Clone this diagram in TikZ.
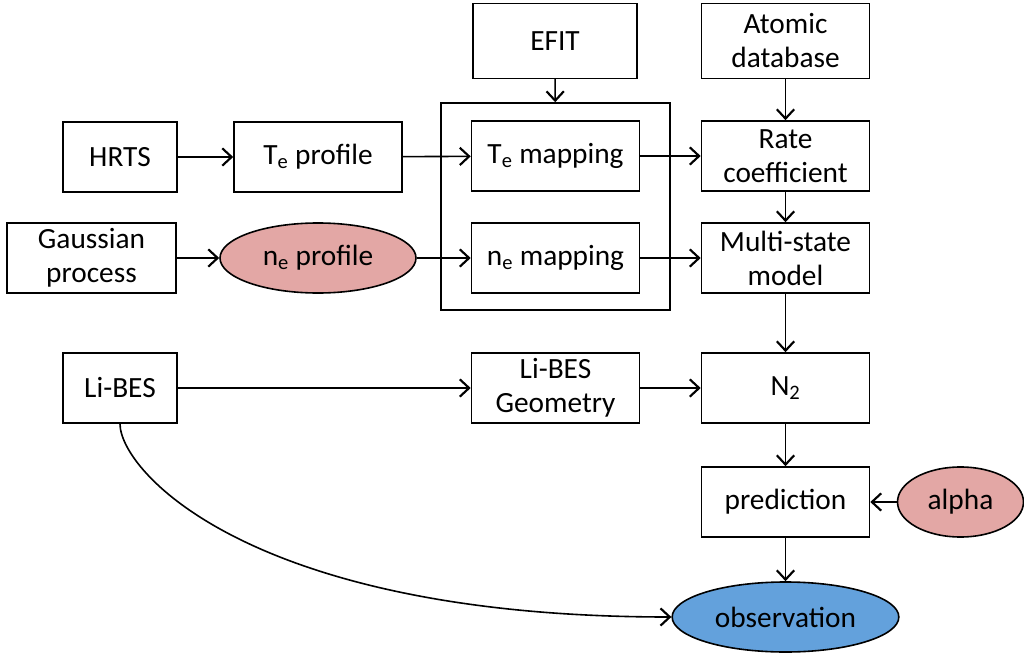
\documentclass[tikz,border=0pt]{standalone}
\usepackage{fontspec}
\setmainfont{Carlito}
\usetikzlibrary{arrows.meta,shapes.geometric}

\begin{document}
\begin{tikzpicture}[x=0.75pt, y=-0.75pt,
  every node/.style={font=\fontsize{22}{25.5}\selectfont, align=center, inner sep=0pt},
  box/.style={draw, line width=1.2pt, minimum width=126pt, minimum height=52.5pt},
  param/.style={draw, line width=1.2pt, ellipse, fill=pinkfill, minimum height=52.5pt},
  conn/.style={line width=1.2pt, -{Straight Barb[length=7pt, width=13pt, line width=1.6pt]}}]

  \definecolor{pinkfill}{HTML}{E3A7A5}
  \definecolor{bluefill}{HTML}{63A1DC}

  \useasboundingbox (0,0) rectangle (1024,656);

  % inputs
  \node[box, minimum width=85.5pt] (hrts) at (120,157) {HRTS};
  \node[box, minimum width=126.75pt] (gauss) at (91.5,258) {Gaussian\\process};
  \node[box, minimum width=85.5pt] (libes) at (120,388) {Li-BES};
  \node[box, minimum width=123pt, minimum height=56pt] (efit) at (555,41) {EFIT};
  \node[box, minimum height=56pt] (atomic) at (785.5,41) {Atomic\\database};

  % profiles
  \node[box] (teprof) at (318,157) {T\textsubscript{e} profile};
  \node[param, minimum width=147pt] (neprof) at (318,258) {n\textsubscript{e} profile};

  % mapping group
  \node[draw, line width=1.2pt, minimum width=171.75pt, minimum height=155.25pt] (group) at (555.5,206.5) {};
  \node[box] (temap) at (555.5,156) {T\textsubscript{e} mapping};
  \node[box] (nemap) at (555.5,258) {n\textsubscript{e} mapping};
  \node[box] (geom) at (555.5,388) {Li-BES\\Geometry};

  % right column
  \node[box] (rate) at (785.5,156) {Rate\\coefficient};
  \node[box] (multi) at (785.5,258) {Multi-state\\model};
  \node[box] (ntwo) at (785.5,388) {N\textsubscript{2}};
  \node[box] (pred) at (785.5,502) {prediction};
  \node[param, minimum width=94.5pt] (alpha) at (960.5,502) {alpha};
  \node[param, fill=bluefill, minimum width=170pt] (obs) at (785.5,617) {observation};

  % connectors
  \draw[conn] (hrts) -- (teprof);
  \draw[conn] (teprof) -- (temap);
  \draw[conn] (gauss) -- (neprof);
  \draw[conn] (neprof) -- (nemap);
  \draw[conn] (efit) -- (group);
  \draw[conn] (atomic) -- (rate);
  \draw[conn] (temap) -- (rate);
  \draw[conn] (nemap) -- (multi);
  \draw[conn] (rate) -- (multi);
  \draw[conn] (multi) -- (ntwo);
  \draw[conn] (libes) -- (geom);
  \draw[conn] (geom) -- (ntwo);
  \draw[conn] (ntwo) -- (pred);
  \draw[conn] (alpha) -- (pred);
  \draw[conn] (pred) -- (obs);
  \draw[conn] (libes.south) .. controls +(0,47) and +(-422,0) .. (obs.west);
\end{tikzpicture}
\end{document}
